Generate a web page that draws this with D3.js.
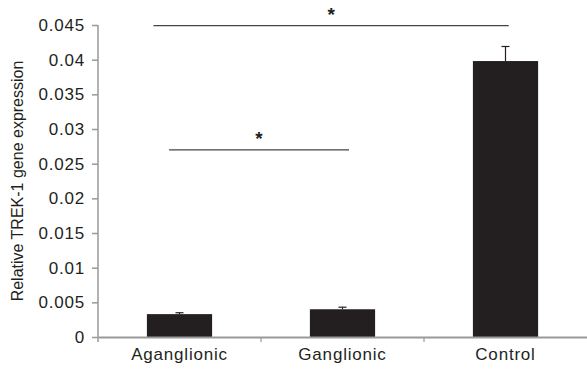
<!DOCTYPE html>
<html>
<head>
<meta charset="utf-8">
<script src="https://cdn.jsdelivr.net/npm/d3@7"></script>
<style>
  body { margin: 0; background: #fff; }
  text { font-family: "Liberation Sans", Arial, sans-serif; fill: #231f20; }
</style>
</head>
<body>
<script>
const categories = ["Aganglionic", "Ganglionic", "Control"];
const values = [0.0033, 0.0040, 0.0398];
const errors = [0.0002, 0.0003, 0.0021];
const yTicks = [0, 0.005, 0.01, 0.015, 0.02, 0.025, 0.03, 0.035, 0.04, 0.045];
const yTickLabels = ["0", "0.005", "0.01", "0.015", "0.02", "0.025", "0.03", "0.035", "0.04", "0.045"];
// significance brackets
const sigFrom = ["Aganglionic", "Aganglionic"];
const sigTo = ["Ganglionic", "Control"];
const sigLevel = [0.027, 0.0449];

const W = 587, H = 370;
const margin = { top: 25, right: 0, bottom: 33, left: 98 };
const width = W - margin.left - margin.right;
const height = H - margin.top - margin.bottom;

const svg = d3.select("body").append("svg")
    .attr("width", W).attr("height", H);
const g = svg.append("g")
    .attr("transform", `translate(${margin.left}, ${margin.top})`);

const x = d3.scaleBand().domain(categories).range([0, width]).paddingInner(0.6).paddingOuter(0.3);
const xb = d3.scaleBand().domain(categories).range([0, width]);
const y = d3.scaleLinear().domain([0, 0.045]).range([height, 0]);

const axisColor = "#999";
const fontStyle = sel => sel.attr("font-size", 17).attr("fill", "#231f20")
    .style("letter-spacing", "0.8px")
    .style("font-family", "'Liberation Sans', Arial, sans-serif");

// bars
g.selectAll("rect.bar").data(categories).join("rect")
    .attr("class", "bar")
    .attr("x", d => x(d))
    .attr("width", x.bandwidth())
    .attr("y", (d, i) => y(values[i]))
    .attr("height", (d, i) => height - y(values[i]))
    .attr("fill", "#231f20");

// error bars (upper only)
const eb = g.selectAll("g.err").data(categories).join("g").attr("class", "err");
eb.append("line")
    .attr("x1", d => x(d) + x.bandwidth() / 2).attr("x2", d => x(d) + x.bandwidth() / 2)
    .attr("y1", (d, i) => y(values[i])).attr("y2", (d, i) => y(values[i] + errors[i]))
    .attr("stroke", "#231f20").attr("stroke-width", 1.2);
eb.append("line")
    .attr("x1", d => x(d) + x.bandwidth() / 2 - 4).attr("x2", d => x(d) + x.bandwidth() / 2 + 4)
    .attr("y1", (d, i) => y(values[i] + errors[i])).attr("y2", (d, i) => y(values[i] + errors[i]))
    .attr("stroke", "#231f20").attr("stroke-width", 1.2);

// y axis
const yAxis = g.append("g")
    .call(d3.axisLeft(y).tickValues(yTicks).tickFormat((d, i) => yTickLabels[i]).tickSize(6).tickPadding(7));
yAxis.select(".domain").attr("stroke", axisColor).attr("stroke-width", 1.5).attr("d", `M0,0V${height + 5}`);
yAxis.selectAll(".tick line").attr("stroke", axisColor).attr("stroke-width", 1.5);
yAxis.selectAll(".tick text").call(fontStyle);

// x axis
const xAxis = g.append("g").attr("transform", `translate(0, ${height})`)
    .call(d3.axisBottom(xb).tickSize(0).tickPadding(11));
xAxis.select(".domain").attr("stroke", axisColor).attr("stroke-width", 2);
xAxis.selectAll(".tick text").call(fontStyle);
// category separators
g.selectAll("line.sep").data(categories.slice(1)).join("line")
    .attr("class", "sep")
    .attr("x1", d => xb(d)).attr("x2", d => xb(d))
    .attr("y1", height).attr("y2", height + 5)
    .attr("stroke", axisColor).attr("stroke-width", 1.2);

// y label
svg.append("text")
    .attr("transform", `translate(23, 181) rotate(-90)`)
    .attr("text-anchor", "middle")
    .attr("font-size", 16)
    .text("Relative TREK-1 gene expression");

// significance lines
const sigStart = [0.34, 0.1];
const sigEnd = [0.6, 0.55];
sigLevel.forEach((lv, i) => {
    const x1 = x(sigFrom[i]) + x.bandwidth() * sigStart[i];
    const x2 = x(sigTo[i]) + x.bandwidth() * sigEnd[i];
    g.append("line")
        .attr("x1", x1).attr("x2", x2)
        .attr("y1", y(lv)).attr("y2", y(lv))
        .attr("stroke", "#444").attr("stroke-width", 1.3);
    g.append("text")
        .attr("x", (x1 + x2) / 2)
        .attr("y", y(lv) - 5)
        .attr("text-anchor", "middle")
        .attr("font-size", 19)
        .attr("font-weight", "bold")
        .text("*");
});
</script>
</body>
</html>
